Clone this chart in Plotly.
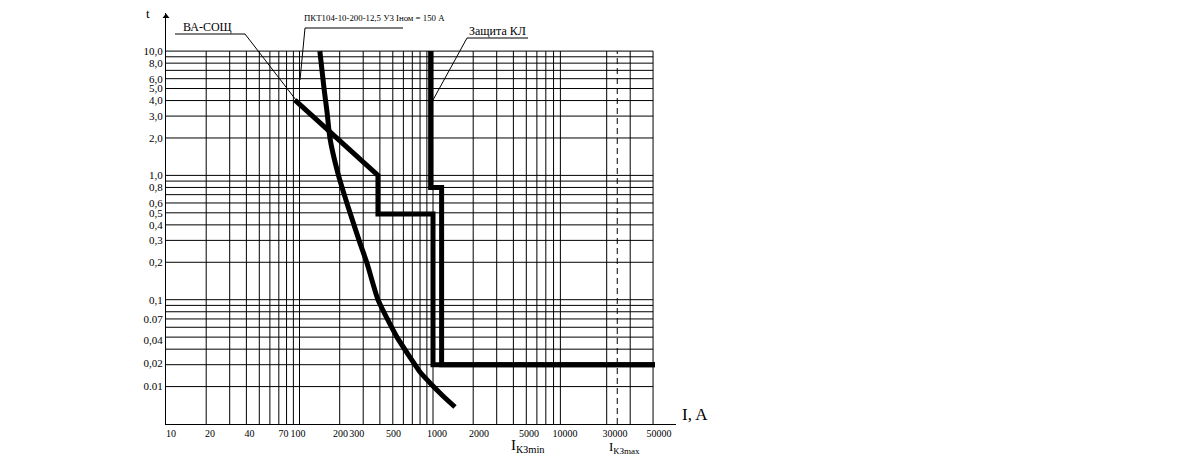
import plotly.graph_objects as go

# ---------------- data ----------------
# fuse ПКТ104-10-200-12,5 (time-current curve)
fuse_I = [142, 153, 161, 169, 194, 239, 284, 320, 387, 452, 537, 672, 799, 983, 1188, 1461]
fuse_t = [10, 4.9, 3.2, 2.0, 1.04, 0.5, 0.285, 0.197, 0.1, 0.071, 0.05, 0.0345, 0.0262, 0.0206, 0.0168, 0.0137]

# breaker ВА-СОЩ
va_I = [92.5, 163.5, 284, 387, 387, 1000, 1000, 46000]
va_t = [4.03, 2.32, 1.38, 1.0, 0.49, 0.49, 0.03, 0.03]

# cable protection "Защита КЛ"
kl_I = [960, 960, 1160, 1160, 46000]
kl_t = [10, 0.8, 0.8, 0.03, 0.03]

# short-circuit current I_КЗmax (dashed line)
ikz_max = 24000

# grid values
grid_I = [20, 30, 40, 50, 60, 70, 80, 90,
          100, 200, 300, 400, 500, 600, 700, 800, 900,
          1000, 2000, 3000, 4000, 5000, 6000, 7000, 8000, 9000,
          20000, 30000, 44500]
grid_t = [10, 9, 8, 7, 6, 5, 4, 3, 2,
          1, 0.9, 0.8, 0.7, 0.6, 0.5, 0.4, 0.3, 0.2,
          0.1, 0.09, 0.08, 0.07, 0.06, 0.05, 0.04, 0.03, 0.02]

# tick labels (as drawn)
x_tick_text = ["10", "20", "40", "70", "100", "200", "300", "500", "1000", "2000",
               "5000", "10000", "30000", "50000"]
y_tick_text = ["10,0", "8,0", "6,0", "5,0", "4,0", "3,0", "2,0", "1,0", "0,8", "0,6",
               "0,5", "0,4", "0,3", "0,2", "0,1", "0.07", "0,04", "0,02", "0.01"]

# positions where the labels are written on the drawing (layout)
x_tick_at = [10.9, 21.4, 42.2, 75.9, 97.5, 203, 268, 506, 1072, 2211, 5236, 9745, 23080, 49300]
y_tick_at = [10, 8, 6, 5, 4, 3, 2, 1, 0.8, 0.6, 0.5, 0.4, 0.3, 0.2, 0.1, 0.07, 0.047, 0.031, 0.02]

# ---------------- layout geometry ----------------
W, H = 1182, 463
L, R, T, B = 166, 676, 13, 424
XDEC = 133.5
YDEC = 124.3
x_range = [1, 1 + (R - L) / XDEC]
y_range = [-2, -2 + (B - T) / YDEC]
I_MIN, I_MAX = 10, 44500
T_MIN, T_MAX = 0.01, 10


def pxx(x):
    return (x - L) / (R - L)


def pxy(y):
    return (B - y) / (B - T)


fig = go.Figure()

# grid
gx, gy = [], []
for v in grid_I:
    gx += [v, v, None]
    gy += [T_MIN, T_MAX, None]
for v in grid_t:
    gx += [I_MIN, I_MAX, None]
    gy += [v, v, None]
fig.add_trace(go.Scatter(x=gx, y=gy, mode="lines", line=dict(color="black", width=1),
                         hoverinfo="skip", showlegend=False))

# dashed I_КЗmax
fig.add_trace(go.Scatter(x=[ikz_max, ikz_max], y=[T_MIN, T_MAX], mode="lines",
                         line=dict(color="black", width=1, dash="6px,4px"),
                         hoverinfo="skip", showlegend=False))

# curves
fig.add_trace(go.Scatter(x=fuse_I, y=fuse_t, mode="lines",
                         line=dict(color="black", width=5, shape="spline", smoothing=0.6),
                         showlegend=False, name="ПКТ"))
fig.add_trace(go.Scatter(x=va_I, y=va_t, mode="lines", line=dict(color="black", width=5),
                         showlegend=False, name="ВА-СОЩ"))
fig.add_trace(go.Scatter(x=kl_I, y=kl_t, mode="lines", line=dict(color="black", width=5),
                         showlegend=False, name="Защита КЛ"))

# arrow on t axis
fig.add_trace(go.Scatter(x=[I_MIN], y=[10 ** (y_range[1] - 3.5 / YDEC)], mode="markers",
                         marker=dict(symbol="triangle-up", size=6, color="black"),
                         cliponaxis=False, hoverinfo="skip", showlegend=False))

font = "Liberation Serif, Times New Roman, serif"

fig.update_layout(
    width=W, height=H,
    margin=dict(l=L, r=W - R, t=T, b=H - B, pad=0),
    paper_bgcolor="white", plot_bgcolor="white",
    font=dict(family=font, color="black", size=11),
    xaxis=dict(type="log", range=x_range, showgrid=False, zeroline=False,
               showline=True, linecolor="black", linewidth=1,
               tickmode="array", tickvals=x_tick_at, ticktext=x_tick_text,
               ticks="", tickangle=0,
               tickfont=dict(family=font, size=10, color="black")),
    yaxis=dict(type="log", range=y_range, showgrid=False, zeroline=False,
               showline=True, linecolor="black", linewidth=1,
               tickmode="array", tickvals=y_tick_at, ticktext=y_tick_text,
               ticks="", tickfont=dict(family=font, size=11, color="black")),
)

shapes = []


def seg(x0, y0, x1, y1):
    shapes.append(dict(type="line", xref="paper", yref="paper",
                       x0=pxx(x0), y0=pxy(y0), x1=pxx(x1), y1=pxy(y1),
                       line=dict(color="black", width=1)))


# leaders and underlines
seg(175, 34, 245, 34)
seg(245, 34, 296, 100)
seg(305, 28, 403, 28)
seg(305, 28, 300, 80)
seg(467, 38, 528, 38)
seg(467, 38, 433, 100)
fig.update_layout(shapes=shapes)


def ann(x, y, text, size, xanchor="center", yanchor="middle"):
    fig.add_annotation(xref="paper", yref="paper", x=pxx(x), y=pxy(y), text=text,
                       showarrow=False, xanchor=xanchor, yanchor=yanchor,
                       font=dict(family=font, size=size, color="black"))


ann(207, 27, "ВА-СОЩ", 12)
ann(302, 18, "ПКТ104-10-200-12,5 У3 Iном = 150 А", 8.8, xanchor="left")
ann(497, 31, "Защита КЛ", 12)
ann(148, 13, "t", 13)
ann(680, 414, "I, A", 17, xanchor="left")
ann(509, 446, "I<sub>КЗmin</sub>", 15, xanchor="left")
ann(607, 448, "I<sub>КЗmax</sub>", 13, xanchor="left")

fig.write_html("out.html")
